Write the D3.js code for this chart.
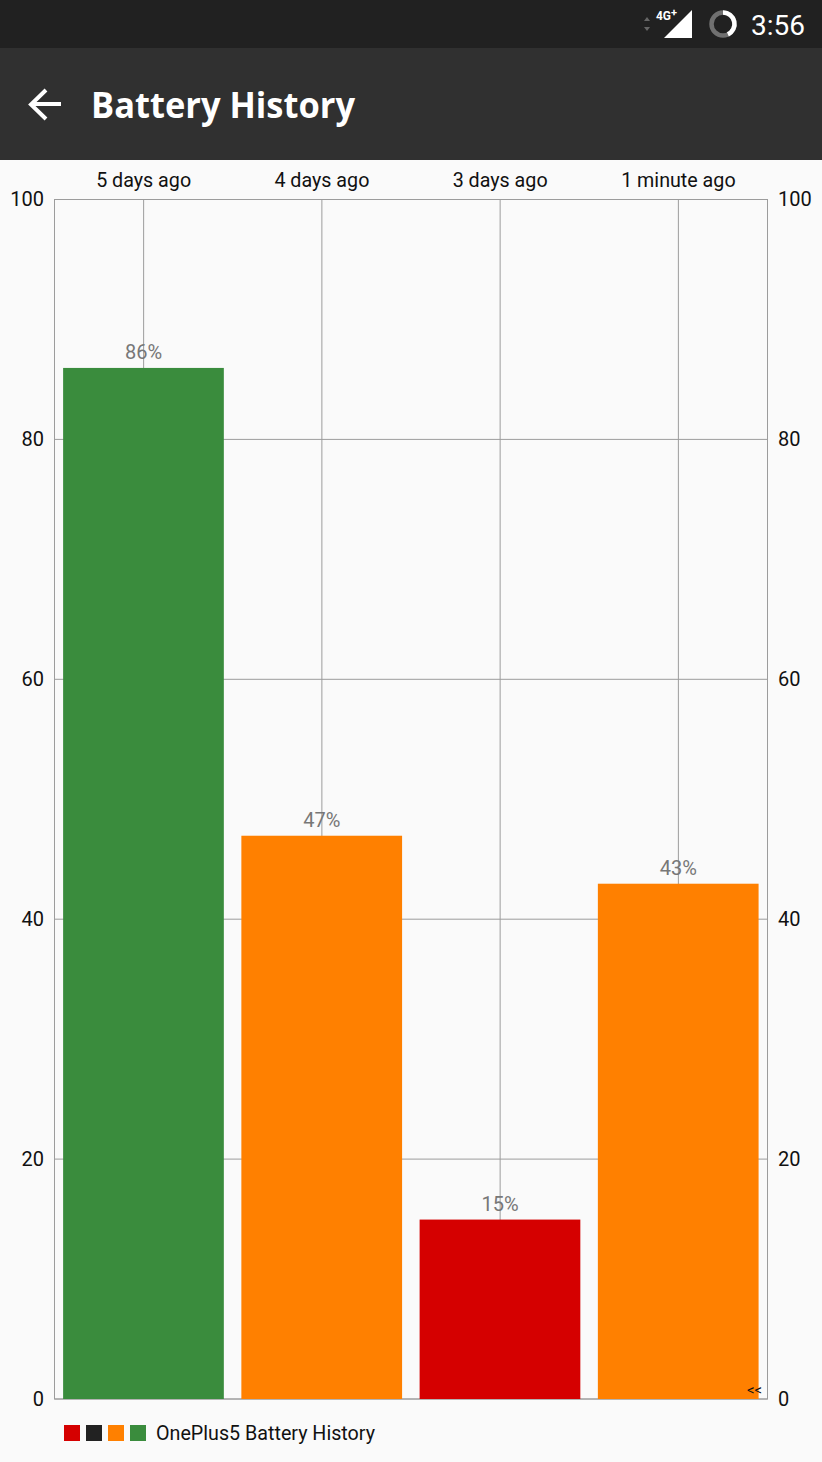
<!DOCTYPE html>
<html><head><meta charset="utf-8">
<script src="https://cdn.jsdelivr.net/npm/d3@7"></script>
<style>html,body{margin:0;padding:0;background:#fafafa;overflow:hidden}svg{display:block}text{font-family:Roboto,sans-serif}</style>
</head><body><svg id="c" width="822" height="1462"></svg>
<script>
const categories = ["5 days ago","4 days ago","3 days ago","1 minute ago"];
const values = [86,47,15,43];
const barColors = ["#3a8c3d","#ff8000","#d50000","#ff8000"];
const valueTicks = [0,20,40,60,80,100];
const legendColors = ["#d50000","#222222","#ff8000","#3a8c3d"];
const legendLabel = "OnePlus5 Battery History";
const pageTitle = "Battery History";
const clock = "3:56";

const svg = d3.select("#c");
const m = {l:54.5,r:767.5,t:199.5,b:1399};
const x = d3.scaleBand().domain(categories).range([m.l,m.r]).paddingInner(0.1).paddingOuter(0.05);
const xc = d => x(d)+x.bandwidth()/2;
const y = d3.scaleLinear().domain([0,100]).range([m.b,m.t]);

svg.append("rect").attr("width",822).attr("height",1462).attr("fill","#fafafa");
svg.append("rect").attr("width",822).attr("height",48).attr("fill","#212121");
svg.append("rect").attr("y",48).attr("width",822).attr("height",112).attr("fill","#303030");

// status bar
svg.append("path").attr("d","M644 21l3-4 3 4zM644 27l3 4 3-4z").attr("fill","#666");
svg.append("path").attr("d","M692 10V38H664Z").attr("fill","#fff");
svg.append("text").attr("x",656).attr("y",20).attr("font-size",13).attr("font-weight",700).attr("fill","#fff").attr("textLength",15).attr("lengthAdjust","spacingAndGlyphs").text("4G");
svg.append("text").attr("x",671).attr("y",16).attr("font-size",11).attr("font-weight",700).attr("fill","#fff").text("+");
svg.append("circle").attr("cx",723).attr("cy",24).attr("r",11.5).attr("fill","none").attr("stroke","#707070").attr("stroke-width",4.5);
svg.append("path").attr("d",d3.arc()({innerRadius:9.25,outerRadius:13.75,startAngle:0,endAngle:2.7})).attr("transform","translate(723,24)").attr("fill","#fff");
svg.append("text").attr("x",805).attr("y",35).attr("text-anchor","end").attr("font-size",28).attr("fill","#fff").text(clock);

// app bar
svg.append("path").attr("d","M61 104H33M46 90L31 104.500L46 119").attr("fill","none").attr("stroke","#fff").attr("stroke-width",4);
svg.append("text").attr("x",91).attr("y",118).attr("font-size",36).attr("font-weight",700).attr("fill","#fff").style("font-family","'Open Sans',sans-serif").attr("textLength",264).attr("lengthAdjust","spacingAndGlyphs").text(pageTitle);

// grid
const grid = "#9c9c9c";
svg.append("g").selectAll("line").data(valueTicks).join("line")
 .attr("x1",m.l).attr("x2",m.r).attr("y1",d=>y(d)).attr("y2",d=>y(d)).attr("stroke",grid);
svg.append("g").selectAll("line").data(categories).join("line")
 .attr("x1",xc).attr("x2",xc).attr("y1",m.t).attr("y2",m.b).attr("stroke",grid);
svg.append("rect").attr("x",m.l).attr("y",m.t).attr("width",m.r-m.l).attr("height",m.b-m.t).attr("fill","none").attr("stroke",grid);

// bars
svg.append("g").selectAll("rect").data(values).join("rect")
 .attr("x",(d,i)=>x(categories[i])-0.3).attr("width",x.bandwidth()+0.3)
 .attr("y",d=>y(d)+0.5).attr("height",d=>m.b-y(d)-0.5).attr("fill",(d,i)=>barColors[i]);

// labels
svg.append("g").selectAll("text").data(values).join("text")
 .attr("x",(d,i)=>xc(categories[i])).attr("y",d=>y(d)-8.5).attr("text-anchor","middle")
 .attr("font-size",20).attr("fill","#777").text(d=>d+"%");
svg.append("g").selectAll("text").data(categories).join("text")
 .attr("x",xc).attr("y",187).attr("text-anchor","middle").attr("font-size",19.7).attr("fill","#111").text(d=>d);
svg.append("g").selectAll("text").data(valueTicks).join("text")
 .attr("x",44).attr("y",d=>y(d)+6.5).attr("text-anchor","end").attr("font-size",20).attr("fill","#111").text(d=>d);
svg.append("g").selectAll("text").data(valueTicks).join("text")
 .attr("x",778).attr("y",d=>y(d)+6.5).attr("font-size",20).attr("fill","#111").text(d=>d);

svg.append("text").attr("x",747).attr("y",1395).attr("font-size",15).attr("fill","#111").text("<<");

// legend
svg.append("g").selectAll("rect").data(legendColors).join("rect")
 .attr("x",(d,i)=>64+22*i).attr("y",1425).attr("width",16).attr("height",16).attr("fill",d=>d);
svg.append("text").attr("x",156).attr("y",1440).attr("font-size",19.7).attr("fill","#111").text(legendLabel);
</script></body></html>
